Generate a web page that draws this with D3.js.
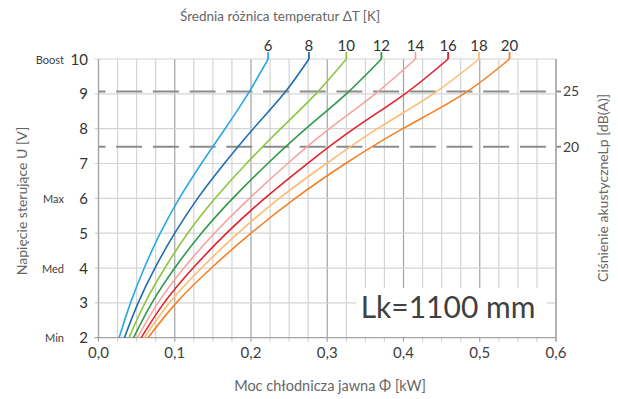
<!DOCTYPE html>
<html><head><meta charset="utf-8">
<script src="https://cdn.jsdelivr.net/npm/d3@7"></script>
<style>
body{margin:0;background:#fff;}
svg{display:block;font-family:Lato, "Open Sans", sans-serif;}
</style></head>
<body><svg id="c" width="618" height="399"></svg>
<script>
const volts = [2,3,4,5,6,7,8,9,10];
const dtLabels = ["6","8","10","12","14","16","18","20"];
const dt6  = [0.027,0.042,0.060,0.081,0.106,0.135,0.166,0.196,0.2225];
const dt8  = [0.034,0.052,0.074,0.100,0.130,0.165,0.203,0.243,0.276];
const dt10 = [0.040,0.061,0.087,0.117,0.153,0.194,0.239,0.285,0.325];
const dt12 = [0.046,0.070,0.100,0.135,0.176,0.222,0.272,0.325,0.371];
const dt14 = [0.051,0.078,0.112,0.152,0.198,0.248,0.303,0.363,0.4157];
const dt16 = [0.056,0.086,0.124,0.168,0.218,0.274,0.335,0.402,0.4585];
const dt18 = [0.060,0.093,0.135,0.183,0.237,0.299,0.366,0.439,0.499];
const dt20 = [0.065,0.102,0.148,0.200,0.258,0.324,0.399,0.479,0.539];
const seriesValues = [dt6,dt8,dt10,dt12,dt14,dt16,dt18,dt20];
const colors = ["#2aa8e0","#1f6db0","#8dc63f","#2e9a48","#f5a3a0","#e3202b","#fdbc72","#f58024"];
const xTicks = [0,0.1,0.2,0.3,0.4,0.5,0.6];
const yTicks = [2,3,4,5,6,7,8,9,10];
const levelNames = ["Min","Med","Max","Boost"];
const levelVolts = [2,4,6,10];
const noiseLabels = ["25","20"];
const noiseVolts = [9.07,7.48];
const lkText = "Lk=1100 mm";

const svg = d3.select("#c");
const x = d3.scaleLinear().domain([0,0.6]).range([98.5,556]);
const y = d3.scaleLinear().domain([2,10]).range([337.7,59]);

// grid
const g = svg.append("g");
const minor = d3.range(0,0.6001,0.025);
g.selectAll("line.vm").data(minor).enter().append("line")
  .attr("x1",d=>x(d)).attr("x2",d=>x(d)).attr("y1",y(10)).attr("y2",y(2)+4)
  .attr("stroke",(d,i)=> (i%4===0)?"#a3a3a3":"#d4d4d4").attr("stroke-width",1.2);
g.selectAll("line.h").data(yTicks).enter().append("line")
  .attr("x1",x(0)-4).attr("x2",x(0.6)).attr("y1",d=>y(d)).attr("y2",d=>y(d))
  .attr("stroke",d=> d===2?"#a3a3a3":"#d4d4d4").attr("stroke-width",1.2);
g.append("line").attr("x1",x(0)).attr("x2",x(0)).attr("y1",y(10)).attr("y2",y(2)).attr("stroke","#a3a3a3").attr("stroke-width",1.2);
g.append("line").attr("x1",x(0.6)).attr("x2",x(0.6)).attr("y1",y(10)).attr("y2",y(2)+4).attr("stroke","#a3a3a3").attr("stroke-width",1.2);

// white box behind Lk text
svg.append("rect").attr("x",356).attr("y",288).attr("width",191).attr("height",y(2)-288-1).attr("fill","#fff");

// dashed noise lines
svg.selectAll("line.ns").data(noiseVolts).enter().append("line")
  .attr("x1",x(0)).attr("x2",561).attr("y1",d=>y(d)).attr("y2",d=>y(d))
  .attr("stroke","#8c8c8c").attr("stroke-width",2)
  .attr("stroke-dasharray","26,10.7").attr("stroke-dashoffset",19);
svg.selectAll("text.ns").data(noiseLabels).enter().append("text")
  .attr("x",563).attr("y",(d,i)=>y(noiseVolts[i])+5)
  .attr("font-size",14).attr("fill","#404040").text(d=>d);

// curves
const line = d3.line().x(d=>x(d[0])).y(d=>y(d[1])).curve(d3.curveNatural);
seriesValues.forEach((vals,i)=>{
  const pts = vals.map((v,j)=>[v,volts[j]]);
  svg.append("path").attr("d",line(pts)).attr("fill","none")
    .attr("stroke",colors[i]).attr("stroke-width",1.6);
  const xe = x(vals[vals.length-1]);
  svg.append("line").attr("x1",xe).attr("x2",xe).attr("y1",y(10)).attr("y2",y(10)-7)
    .attr("stroke",colors[i]).attr("stroke-width",1.8);
  svg.append("text").attr("x",xe).attr("y",y(10)-8).attr("text-anchor","middle")
    .attr("font-size",15).attr("fill","#333").text(dtLabels[i]);
});

// y tick labels
svg.selectAll("text.yt").data(yTicks).enter().append("text")
  .attr("x",88).attr("y",d=>y(d)+5.5).attr("text-anchor","end")
  .attr("font-size",15).attr("fill","#333").text(d=>d);
svg.selectAll("text.lv").data(levelNames).enter().append("text")
  .attr("x",64).attr("y",(d,i)=>y(levelVolts[i])+4.5).attr("text-anchor","end")
  .attr("font-size",11).attr("fill","#404040").text(d=>d);
// x tick labels
svg.selectAll("text.xt").data(xTicks).enter().append("text")
  .attr("x",d=>x(d)).attr("y",358).attr("text-anchor","middle")
  .attr("font-size",15).attr("fill","#404040").text(d=>d3.format(".1f")(d).replace(".",","));

// titles
svg.append("text").attr("x",280).attr("y",21).attr("text-anchor","middle")
  .attr("font-size",13.5).attr("fill","#666").text("Średnia różnica temperatur ΔT [K]");
svg.append("text").attr("x",330).attr("y",391).attr("text-anchor","middle")
  .attr("font-size",14.5).attr("fill","#666").text("Moc chłodnicza jawna Φ [kW]");
svg.append("text").attr("transform","translate(27,201) rotate(-90)").attr("text-anchor","middle")
  .attr("font-size",14).attr("fill","#666").text("Napięcie sterujące U [V]");
svg.append("text").attr("transform","translate(608,188) rotate(-90)").attr("text-anchor","middle")
  .attr("font-size",14).attr("fill","#666").text("Ciśnienie akustyczneLp [dB(A)]");

// Lk text
svg.append("text").attr("x",448).attr("y",318).attr("text-anchor","middle")
  .attr("font-size",30).attr("fill","#404040").text(lkText);
</script></body></html>
